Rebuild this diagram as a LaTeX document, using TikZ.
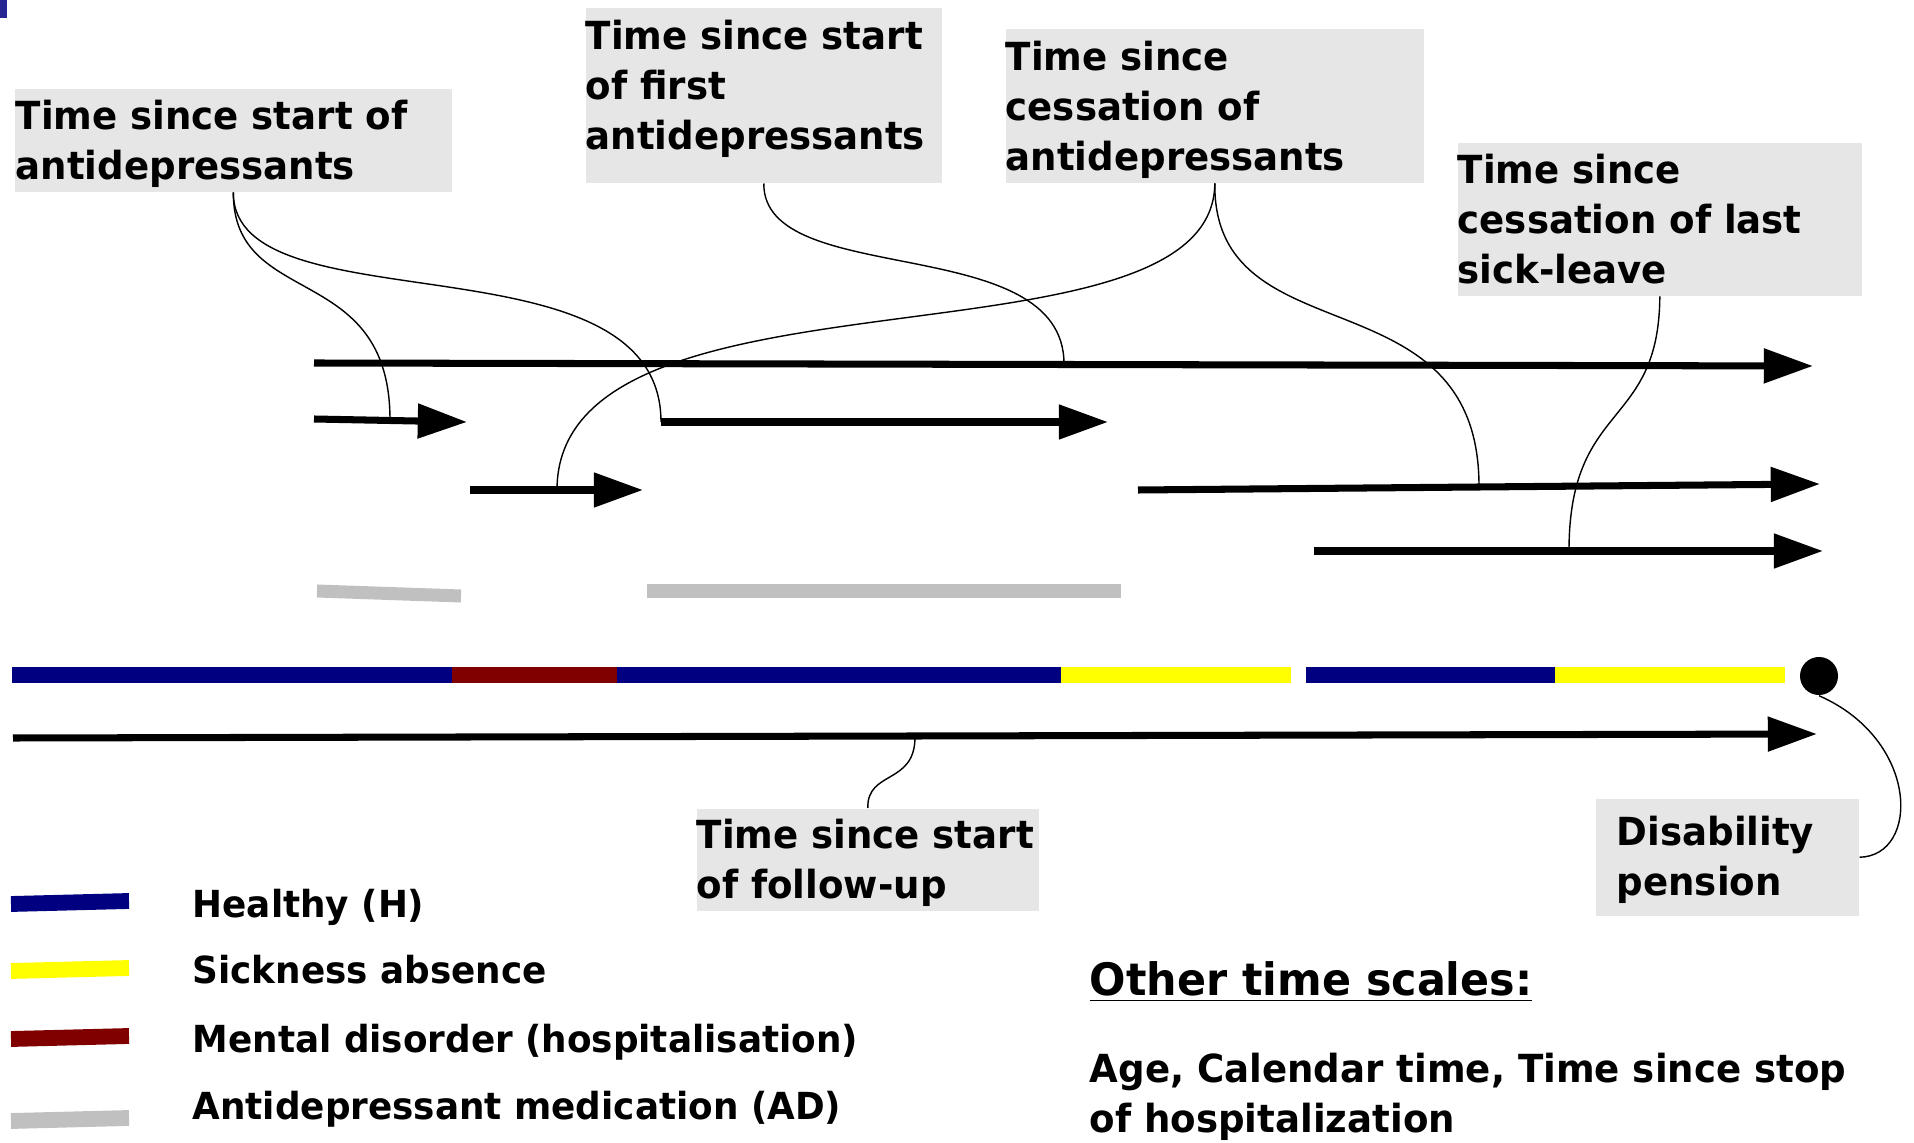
\documentclass[tikz,border=0pt]{standalone}
\usepackage{fontspec}
\setmainfont{DejaVu Sans}[FakeStretch=0.96]
\usetikzlibrary{arrows.meta,positioning}

\definecolor{hblue}{HTML}{000080}
\definecolor{mred}{HTML}{800000}
\definecolor{syellow}{HTML}{FFFF00}
\definecolor{adgray}{HTML}{C0C0C0}
\definecolor{boxgray}{HTML}{E6E6E6}

\tikzset{
  tbox/.style={fill=boxgray, inner sep=0pt, anchor=north west},
  ttext/.style={inner sep=0pt, anchor=base west, text width=10cm, align=left,
    font=\fontsize{11}{14.2}\selectfont\bfseries},
  lgtext/.style={ttext, font=\fontsize{10.6}{14.2}\selectfont\bfseries},
  tsarrow/.style={line width=2pt, -{Triangle[length=14pt,width=9.5pt]}},
  bar/.style={line width=4.5pt},
  adbar/.style={line width=3.7pt, adgray},
  link/.style={line width=0.4pt},
}

\begin{document}
\begin{tikzpicture}[x=0.01cm,y=-0.01cm]
\useasboundingbox (0,0) rectangle (1914,1143);
\fill[hblue!85!white] (0,0) rectangle (7,18);

% Label boxes
\node[tbox, minimum width=4.37cm, minimum height=1.03cm] (startad) at (14,88) {};
\node[ttext] at (15,130) {Time since start of\\antidepressants};

\node[tbox, minimum width=3.56cm, minimum height=1.75cm] (firstad) at (585,7) {};
\node[ttext] at (585,50) {Time since start\\of first\\antidepressants};

\node[tbox, minimum width=4.18cm, minimum height=1.54cm] (stopad) at (1005,28) {};
\node[ttext] at (1005,71) {Time since\\cessation of\\antidepressants};

\node[tbox, minimum width=4.04cm, minimum height=1.53cm] (stopsick) at (1457,142) {};
\node[ttext] at (1457,184) {Time since\\cessation of last\\sick-leave};

\node[tbox, minimum width=3.42cm, minimum height=1.02cm] (follow) at (696,808) {};
\node[ttext] at (696,849) {Time since start\\of follow-up};

\node[tbox, minimum width=2.63cm, minimum height=1.17cm] (pension) at (1595,798) {};
\node[ttext] at (1616,846) {Disability\\pension};

% Time scales
\coordinate (ts1a) at (314,363);  \coordinate (ts1b) at (1813,366);
\coordinate (ts2a) at (314,419);  \coordinate (ts2b) at (467,422);
\coordinate (ts3a) at (470,490);  \coordinate (ts3b) at (643,490);
\coordinate (ts4a) at (661,422);  \coordinate (ts4b) at (1108,422);
\coordinate (ts5a) at (1138,490); \coordinate (ts5b) at (1820,484);
\coordinate (ts6a) at (1314,551); \coordinate (ts6b) at (1823,551);
\coordinate (fua) at (13,738);    \coordinate (fub) at (1817,734);

\draw[tsarrow] (ts1a) -- (ts1b);
\draw[tsarrow] (ts2a) -- (ts2b);
\draw[tsarrow] (ts3a) -- (ts3b);
\draw[tsarrow] (ts4a) -- (ts4b);
\draw[tsarrow] (ts5a) -- (ts5b);
\draw[tsarrow] (ts6a) -- (ts6b);
\draw[tsarrow] (fua) -- (fub);

% AD periods
\draw[adbar] (317,591) -- (461,596);
\draw[adbar] (647,591) -- (1121,591);

% States
\draw[bar, hblue] (12,675) -- (452,675);
\draw[bar, mred] (452,675) -- (617,675);
\draw[bar, hblue] (617,675) -- (1061,675);
\draw[bar, syellow] (1061,675) -- (1291,675);
\draw[bar, hblue] (1306,675) -- (1555,675);
\draw[bar, syellow] (1555,675) -- (1785,675);
\node[circle, fill=black, minimum size=0.38cm, inner sep=0pt] (dp) at (1819,676) {};

% Links
\coordinate (hit2) at (390,420);
\coordinate (hit1) at (1064,364);
\coordinate (hit3) at (557,490);
\coordinate (hit5) at (1479,486);
\coordinate (hit6) at (1569,551);
\coordinate (hitfu) at (915,737);

\draw[link] (startad.south) .. controls (233,310) and (390,260) .. (hit2);
\draw[link] (startad.south) .. controls (233,330) and (661,230) .. (ts4a);
\draw[link] (firstad.south) .. controls (763,290) and (1064,230) .. (hit1);
\draw[link] (stopad.south) .. controls (1213,380) and (557,250) .. (hit3);
\draw[link] (stopad.south) .. controls (1213,360) and (1479,270) .. (hit5);
\draw[link] (stopsick.south) .. controls (1659,430) and (1569,400) .. (hit6);
\draw[link] (follow.north) .. controls (867,770) and (915,785) .. (hitfu);
\draw[link] (dp.south) .. controls (1920,740) and (1920,856) .. (pension.east);

% Legend
\draw[bar, hblue] (11,904) -- (129,901);
\draw[bar, syellow] (11,971) -- (129,968);
\draw[bar, mred] (11,1039) -- (129,1036);
\draw[bar, adgray] (11,1121) -- (129,1118);
\node[lgtext] (lgh) at (192,917) {Healthy (H)};
\node[lgtext] (lgs) at (192,984) {Sickness absence};
\node[lgtext] (lgm) at (192,1052) {Mental disorder (hospitalisation)};
\node[lgtext] (lga) at (192,1119) {Antidepressant medication (AD)};

% Other time scales
\node[ttext, font=\fontsize{12.7}{16}\selectfont\bfseries] (other) at (1089,995) {\underline{Other time scales:}};
\node[ttext] (otherlist) at (1089,1083) {Age, Calendar time, Time since stop\\of hospitalization};

\end{tikzpicture}
\end{document}
